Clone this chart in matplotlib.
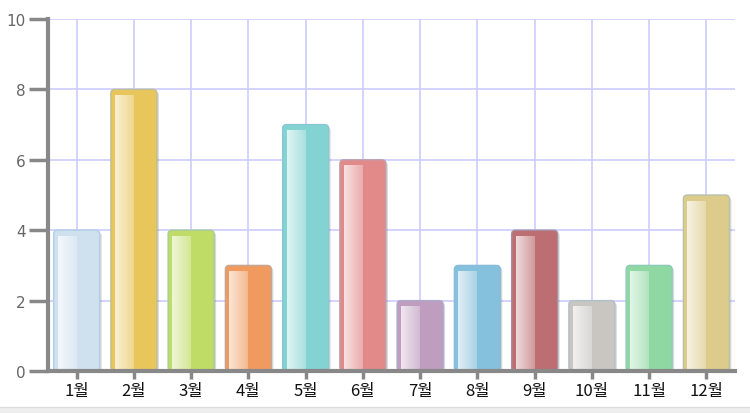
import matplotlib
matplotlib.use("Agg")
import matplotlib.pyplot as plt
import numpy as np
from matplotlib.patches import FancyBboxPatch, Rectangle
from matplotlib.colors import to_rgb

months = ["1월", "2월", "3월", "4월", "5월", "6월", "7월", "8월", "9월", "10월", "11월", "12월"]
values = [4, 8, 4, 3, 7, 6, 2, 3, 4, 2, 3, 5]
colors = ["#cfe0ef", "#e8c65c", "#bfdc66", "#f09a60", "#83d3d3", "#e28a8a",
          "#bf9dbf", "#85c0dd", "#bd6e73", "#c9c6c2", "#8fd8a3", "#dccb8a"]
y_ticks = [0, 2, 4, 6, 8, 10]

plt.rcParams['font.family'] = ['Noto Sans CJK KR', 'DejaVu Sans']

fig = plt.figure(figsize=(7.5, 4.14), dpi=100)
fig.patch.set_facecolor("white")
# bottom light strip
fig.patches.append(Rectangle((0, 0), 1, 6 / 414, transform=fig.transFigure,
                             facecolor="#eeeeee", edgecolor="none"))
fig.add_artist(plt.Line2D([0, 1], [6.5 / 414, 6.5 / 414], transform=fig.transFigure,
                          color="#dddddd", lw=1))

ax = fig.add_axes([48 / 750, 42 / 414, 687 / 750, 352 / 414])
ax.set_xlim(-0.5, 11.5)
ax.set_ylim(0, 10)
ax.set_facecolor("white")

x = np.arange(len(months))
bw = 46 / 57.25
bars = ax.bar(x, values, width=bw, color="none", edgecolor="none", zorder=3)

xpx = 687 / 12.0  # px per x unit
ypx = 352 / 10.0  # px per y unit
asp = xpx / ypx
r = 4 / xpx

for b, c in zip(bars, colors):
    x0, w, h = b.get_x(), b.get_width(), b.get_height()
    # shadow
    sh = FancyBboxPatch((x0 + 2 / xpx, -3 / ypx), w, h + 1 / ypx,
                        boxstyle=f"round,pad=0,rounding_size={r}", mutation_aspect=asp,
                        facecolor="black", alpha=0.15, edgecolor="none", zorder=2.5)
    ax.add_patch(sh)
    edge = tuple(np.array(to_rgb(c)) * 0.55 + np.array(to_rgb("#8fb8d8")) * 0.45)
    p = FancyBboxPatch((x0, 0), w, h,
                       boxstyle=f"round,pad=0,rounding_size={r}", mutation_aspect=asp,
                       facecolor=c, edgecolor=edge, lw=1.0, zorder=3)
    ax.add_patch(p)
    # gloss highlight on left half
    gx0 = x0 + 4 / xpx
    gx1 = x0 + w / 2
    gy0 = 2 / ypx
    gy1 = h - 6 / ypx
    grad = np.linspace(0.75, 0.3, 64)
    img = np.ones((1, 64, 4))
    img[..., 3] = grad
    ax.imshow(img, extent=(gx0, gx1, gy0, gy1), aspect="auto", zorder=3.5,
              interpolation="bilinear")

ax.set_xlim(-0.5, 11.5)
ax.set_ylim(0, 10)

ax.set_yticks(y_ticks)
ax.set_xticks(x)
ax.set_xticklabels(months, fontsize=12, color="#111111")
ax.tick_params(axis="y", length=14, width=2.5, color="#888888", labelsize=11,
               labelcolor="#666666", pad=2)
for lab in ax.get_yticklabels():
    lab.set_fontfamily(["DejaVu Sans"])
ax.tick_params(axis="x", length=6, width=2.5, color="#888888", pad=2)

ax.grid(True, color="#ccccff", lw=1.2, zorder=0)
ax.set_axisbelow(True)
for s in ["top", "right"]:
    ax.spines[s].set_visible(False)
ax.spines["left"].set_color("#888888")
ax.spines["left"].set_linewidth(3)
ax.spines["bottom"].set_color("#888888")
ax.spines["bottom"].set_linewidth(3)
ax.spines["left"].set_zorder(5)
ax.spines["bottom"].set_zorder(5)

fig.savefig("out.png", dpi=100)
